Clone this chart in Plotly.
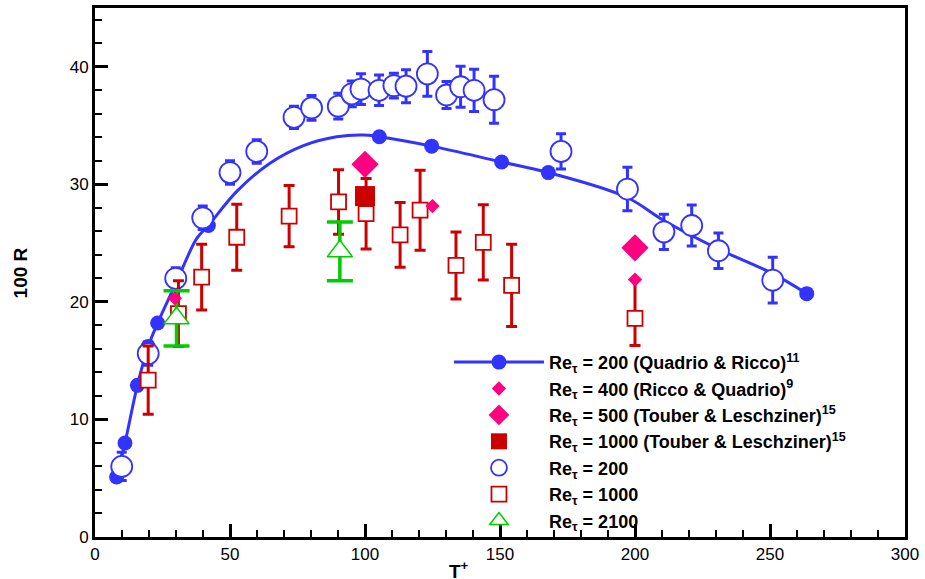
import plotly.graph_objects as go

# Re_tau = 200 (Quadrio & Ricco) - visible filled markers
qr_T = [8.0, 11.1, 15.7, 19.7, 23.2, 42.0, 105.3, 124.7, 150.6, 167.9, 263.6]
qr_R = [5.1, 8.0, 12.9, 16.2, 18.2, 26.5, 34.05, 33.25, 31.9, 31.0, 20.7]
# fitted curve through the Quadrio & Ricco data
qr_curve_T = [8.0, 11.1, 15.7, 19.7, 23.2, 30.0, 37.7, 42.0, 52.5, 64.8, 77.2, 89.5,
              99.4, 105.3, 124.7, 150.6, 167.9, 196.9, 210.5, 230.9, 251.0, 263.6]
qr_curve_R = [5.1, 8.0, 12.9, 16.2, 18.2, 21.6, 25.4, 26.5, 29.4, 31.8, 33.3, 34.05,
              34.2, 34.05, 33.25, 31.9, 31.0, 28.9, 26.95, 24.5, 22.4, 20.7]

# Re_tau = 400 (Ricco & Quadrio)
rq_T = [29.6, 125.0, 200.0]
rq_R = [20.3, 28.15, 21.9]

# Re_tau = 500 (Touber & Leschziner)
tl500_T = [100.0, 200.0]
tl500_R = [31.7, 24.6]

# Re_tau = 1000 (Touber & Leschziner)
tl1000_T = [100.0]
tl1000_R = [29.0]

# Re_tau = 200 (present)
re200_T = [9.9, 19.7, 29.9, 39.9, 50.0, 59.9, 73.7, 80.2, 90.1, 95.1, 98.5, 105.2, 110.7,
           115.2, 123.1, 130.2, 135.4, 140.4, 147.8, 172.6, 197.2, 210.7, 221.0, 230.9, 251.0]
re200_R = [6.0, 15.6, 22.0, 27.15, 31.0, 32.8, 35.7, 36.5, 36.65, 37.7, 38.1, 38.0, 38.4,
           38.35, 39.4, 37.6, 38.3, 38.0, 37.2, 32.8, 29.6, 25.96, 26.5, 24.35, 21.85]
re200_err = [1.2, 1.0, 0.9, 1.0, 1.0, 1.0, 0.95, 1.05, 1.1, 1.1, 1.3, 1.3, 1.05,
             1.4, 1.9, 1.15, 1.75, 1.8, 2.0, 1.5, 1.85, 1.5, 1.75, 1.5, 1.95]

# Re_tau = 1000 (present)
re1000_T = [19.7, 30.9, 39.5, 52.5, 71.9, 90.2, 100.4, 113.0, 120.4, 133.7, 143.8, 154.3, 200.0]
re1000_R = [13.35, 19.0, 22.1, 25.5, 27.3, 28.5, 27.5, 25.7, 27.8, 23.1, 25.06, 21.4, 18.6]
re1000_err_up = [2.9, 2.8, 2.8, 2.8, 2.6, 2.75, 3.0, 2.75, 3.4, 2.85, 3.2, 3.5, 3.3]
re1000_err_dn = [2.9, 2.8, 2.8, 2.8, 2.6, 2.75, 3.0, 2.75, 3.4, 2.85, 3.2, 3.5, 2.3]

# Re_tau = 2100 (present)
re2100_T = [30.2, 90.7]
re2100_R = [18.6, 24.3]
re2100_err = [2.35, 2.5]

BLUE = "#3333ff"
RED = "#cc0000"
PINK = "#ff0080"
GREEN = "#00cc00"
FONT = "Liberation Sans, Arial"

names = [
    "Re<sub>τ</sub> = 200 (Quadrio & Ricco)<sup>11</sup>",
    "Re<sub>τ</sub> = 400 (Ricco & Quadrio)<sup>9</sup>",
    "Re<sub>τ</sub> = 500 (Touber & Leschziner)<sup>15</sup>",
    "Re<sub>τ</sub> = 1000 (Touber & Leschziner)<sup>15</sup>",
    "Re<sub>τ</sub> = 200",
    "Re<sub>τ</sub> = 1000",
    "Re<sub>τ</sub> = 2100",
]


def interleave(vals):
    out = []
    for v in vals:
        out += [v, None]
    return out


fig = go.Figure()

fig.add_trace(go.Scatter(x=qr_curve_T, y=qr_curve_R, mode="lines",
                         line=dict(color=BLUE, width=3, shape="spline", smoothing=1.0),
                         showlegend=False, hoverinfo="skip"))
fig.add_trace(go.Scatter(x=interleave(qr_T), y=interleave(qr_R), mode="lines+markers",
                         line=dict(color=BLUE, width=3), connectgaps=False,
                         marker=dict(symbol="circle", size=15, color=BLUE),
                         name=names[0], legendrank=1))

fig.add_trace(go.Scatter(x=re200_T, y=re200_R, mode="markers",
                         marker=dict(symbol="circle", size=21, color="white",
                                     line=dict(color=BLUE, width=1.8)),
                         error_y=dict(type="data", array=re200_err, visible=True,
                                      color=BLUE, thickness=3, width=5),
                         name=names[4], legendrank=5))

fig.add_trace(go.Scatter(x=re1000_T, y=re1000_R, mode="markers",
                         marker=dict(symbol="square", size=15, color="white",
                                     line=dict(color=RED, width=1.8)),
                         error_y=dict(type="data", array=re1000_err_up, arrayminus=re1000_err_dn,
                                      visible=True, color=RED, thickness=3, width=5.5),
                         name=names[5], legendrank=6))

fig.add_trace(go.Scatter(x=re2100_T, y=re2100_R, mode="markers",
                         marker=dict(symbol="triangle-up", size=22, color="white",
                                     line=dict(color=GREEN, width=1.5)),
                         error_y=dict(type="data", array=re2100_err, visible=True,
                                      color=GREEN, thickness=3.5, width=13),
                         name=names[6], legendrank=7))

fig.add_trace(go.Scatter(x=rq_T, y=rq_R, mode="markers",
                         marker=dict(symbol="diamond", size=11, color=PINK),
                         name=names[1], legendrank=2))

fig.add_trace(go.Scatter(x=tl500_T, y=tl500_R, mode="markers",
                         marker=dict(symbol="diamond", size=21, color=PINK),
                         name=names[2], legendrank=3))

fig.add_trace(go.Scatter(x=tl1000_T, y=tl1000_R, mode="markers",
                         marker=dict(symbol="square", size=20, color=RED),
                         name=names[3], legendrank=4))

axis_common = dict(
    showline=True, linecolor="black", linewidth=3, mirror=True,
    ticks="inside", ticklen=13, tickwidth=3, tickcolor="black",
    showgrid=False, zeroline=False, automargin=False,
    tickfont=dict(family=FONT, size=17, color="black"),
)

fig.update_layout(
    width=925, height=579,
    margin=dict(l=95, r=20, t=8, b=42),
    paper_bgcolor="white", plot_bgcolor="white",
    xaxis=dict(range=[0, 300], tick0=0, dtick=50,
               minor=dict(ticks="inside", ticklen=7, tickwidth=1.5, dtick=10, tickcolor="black"),
               **axis_common),
    yaxis=dict(range=[0, 45], tick0=0, dtick=10,
               minor=dict(ticks="inside", ticklen=7, tickwidth=1.5, dtick=2, tickcolor="black"),
               **axis_common),
    legend=dict(x=0.437, y=0.365, xanchor="left", yanchor="top",
                bgcolor="rgba(0,0,0,0)", borderwidth=0,
                font=dict(family=FONT, size=18, color="black", weight="bold"),
                tracegroupgap=0, itemsizing="trace", itemwidth=90),
    showlegend=True,
    annotations=[
        dict(text="100 R", xref="paper", yref="paper", x=-0.0915, y=0.5,
             xanchor="center", yanchor="middle", textangle=-90, showarrow=False,
             font=dict(family=FONT, size=19, color="black", weight="bold")),
        dict(text="T<sup>+</sup>", xref="paper", yref="paper", x=0.449, y=-0.062,
             xanchor="center", yanchor="middle", showarrow=False,
             font=dict(family=FONT, size=19, color="black", weight="bold")),
    ],
)

fig.write_html("out.html", config={"displayModeBar": False},
               post_script="document.body.style.margin='0';document.body.style.overflow='hidden';")
